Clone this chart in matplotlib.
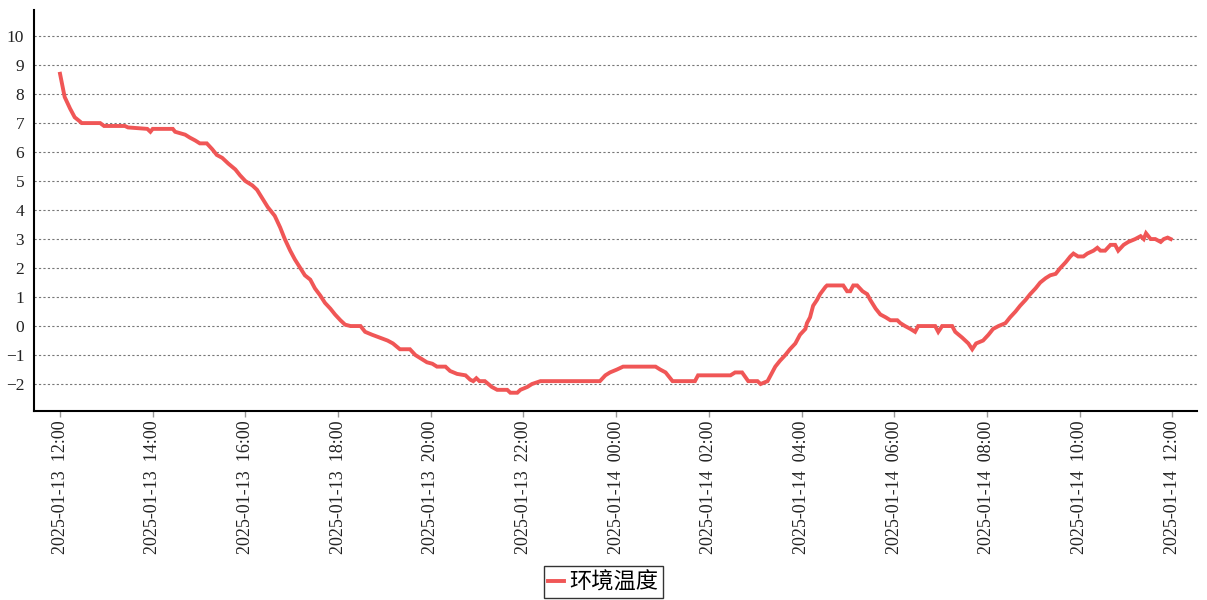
import matplotlib
matplotlib.use("Agg")
import matplotlib.pyplot as plt
import matplotlib.dates as mdates
import pandas as pd
import numpy as np

# ---- data ----
start_time = "2025-01-13 12:00"
series_name = "环境温度"
minutes = [0, 3, 6, 13, 19, 26, 28, 52, 57, 84, 88, 113, 117, 120, 146, 149, 162, 168,
           175, 181, 190, 197, 203, 210, 218, 227, 233, 240, 249, 255, 262, 269, 278, 285,
           291, 298, 304, 311, 317, 324, 330, 337, 343, 350, 356, 363, 369, 376, 389, 395,
           404, 414, 424, 431, 440, 453, 460, 466, 475, 482, 488, 499, 505, 514, 525, 531,
           535, 539, 543, 550, 559, 566, 579, 583, 592, 596, 605, 611, 622, 699, 706, 712,
           721, 729, 771, 777, 784, 790, 793, 822, 826, 868, 874, 883, 887, 891, 903, 907,
           916, 920, 926, 932, 939, 945, 952, 958, 965, 967, 971, 975, 980, 984, 991, 993,
           1014, 1019, 1023, 1027, 1032, 1039, 1045, 1049, 1056, 1062, 1069, 1075, 1084,
           1088, 1094, 1101, 1107, 1111, 1133, 1137, 1142, 1155, 1159, 1168, 1176, 1181,
           1186, 1195, 1202, 1208, 1215, 1224, 1230, 1237, 1243, 1250, 1256, 1263, 1269,
           1276, 1282, 1289, 1295, 1302, 1308, 1312, 1318, 1325, 1330, 1338, 1343, 1347,
           1353, 1360, 1366, 1370, 1377, 1383, 1392, 1399, 1403, 1406, 1412, 1418, 1425,
           1429, 1434, 1438]
temps = [8.7, 8.3, 7.9, 7.5, 7.2, 7.05, 7.0, 7.0, 6.9, 6.9, 6.85, 6.8, 6.7, 6.8, 6.8, 6.7,
         6.6, 6.5, 6.4, 6.3, 6.3, 6.1, 5.9, 5.8, 5.6, 5.4, 5.2, 5.0, 4.85, 4.7, 4.4, 4.1,
         3.8, 3.4, 3.0, 2.6, 2.3, 2.0, 1.75, 1.6, 1.3, 1.05, 0.8, 0.6, 0.4, 0.2, 0.05, 0.0,
         0.0, -0.2, -0.3, -0.4, -0.5, -0.6, -0.8, -0.8, -1.0, -1.1, -1.25, -1.3, -1.4, -1.4,
         -1.55, -1.65, -1.7, -1.85, -1.9, -1.8, -1.9, -1.9, -2.1, -2.2, -2.2, -2.3, -2.3,
         -2.2, -2.1, -2.0, -1.9, -1.9, -1.7, -1.6, -1.5, -1.4, -1.4, -1.5, -1.6, -1.8, -1.9,
         -1.9, -1.7, -1.7, -1.6, -1.6, -1.75, -1.9, -1.9, -2.0, -1.9, -1.7, -1.4, -1.2,
         -1.0, -0.8, -0.6, -0.3, -0.1, 0.1, 0.3, 0.7, 0.9, 1.1, 1.35, 1.4, 1.4, 1.2, 1.2,
         1.4, 1.4, 1.2, 1.1, 0.9, 0.6, 0.4, 0.3, 0.2, 0.2, 0.1, 0.0, -0.1, -0.2, 0.0, 0.0,
         -0.2, 0.0, 0.0, -0.2, -0.4, -0.6, -0.8, -0.6, -0.5, -0.3, -0.1, 0.0, 0.1, 0.3, 0.5,
         0.7, 0.9, 1.1, 1.3, 1.5, 1.65, 1.75, 1.8, 2.0, 2.2, 2.4, 2.5, 2.4, 2.4, 2.5, 2.6,
         2.7, 2.6, 2.6, 2.8, 2.8, 2.6, 2.8, 2.9, 3.0, 3.1, 3.0, 3.2, 3.0, 3.0, 2.9, 3.0,
         3.05, 3.0]
y_ticks = list(range(-2, 11))

times = pd.Timestamp(start_time) + pd.to_timedelta(minutes, unit="min")

plt.rcParams['font.family'] = ['Liberation Serif', 'Noto Sans CJK SC', 'DejaVu Sans']

fig = plt.figure(figsize=(12.07, 6.0), dpi=100)
ax = fig.add_axes([34/1207, 189/600, (1197-34)/1207, (411-10)/600])

ax.plot(times, temps, color='#f05656', lw=2.8, label=series_name, solid_joinstyle='miter')

ax.set_ylim(-2.93, 10.9)
ax.set_yticks(y_ticks)
ax.set_yticklabels([("−%d" % -v) if v < 0 else str(v) for v in y_ticks])
x0 = pd.Timestamp(start_time)
ax.set_xlim(mdates.date2num(x0 - pd.Timedelta(minutes=33.7)),
            mdates.date2num(x0 + pd.Timedelta(minutes=1472)))
ax.xaxis.set_major_locator(mdates.HourLocator(byhour=range(0, 24, 2)))
ax.xaxis.set_major_formatter(mdates.DateFormatter('%Y-%m-%d  %H:%M'))

ax.grid(axis='y', linestyle=(0, (2, 2)), color='#777777', lw=0.8)
ax.set_axisbelow(True)

for s in ['top', 'right']:
    ax.spines[s].set_visible(False)
ax.spines['left'].set_linewidth(1.5)
ax.spines['bottom'].set_linewidth(1.5)
ax.spines['left'].set_color('black')
ax.spines['bottom'].set_color('black')

ax.tick_params(axis='y', length=0, pad=7, labelsize=12.5, colors='#222222')
ax.tick_params(axis='x', length=4, width=1, color='#999999', pad=3, labelsize=13,
               labelrotation=90, labelcolor='#222222')

leg = fig.legend(loc='lower center', bbox_to_anchor=(603.5/1207, 2/600), frameon=True,
                 fancybox=False, edgecolor='black', handlelength=0.7, handletextpad=0.25,
                 borderpad=0.2, borderaxespad=0.0,
                 prop={'family': ['Noto Sans CJK SC'], 'size': 16})
leg.get_frame().set_linewidth(1.0)

fig.savefig('out.png', dpi=100)
